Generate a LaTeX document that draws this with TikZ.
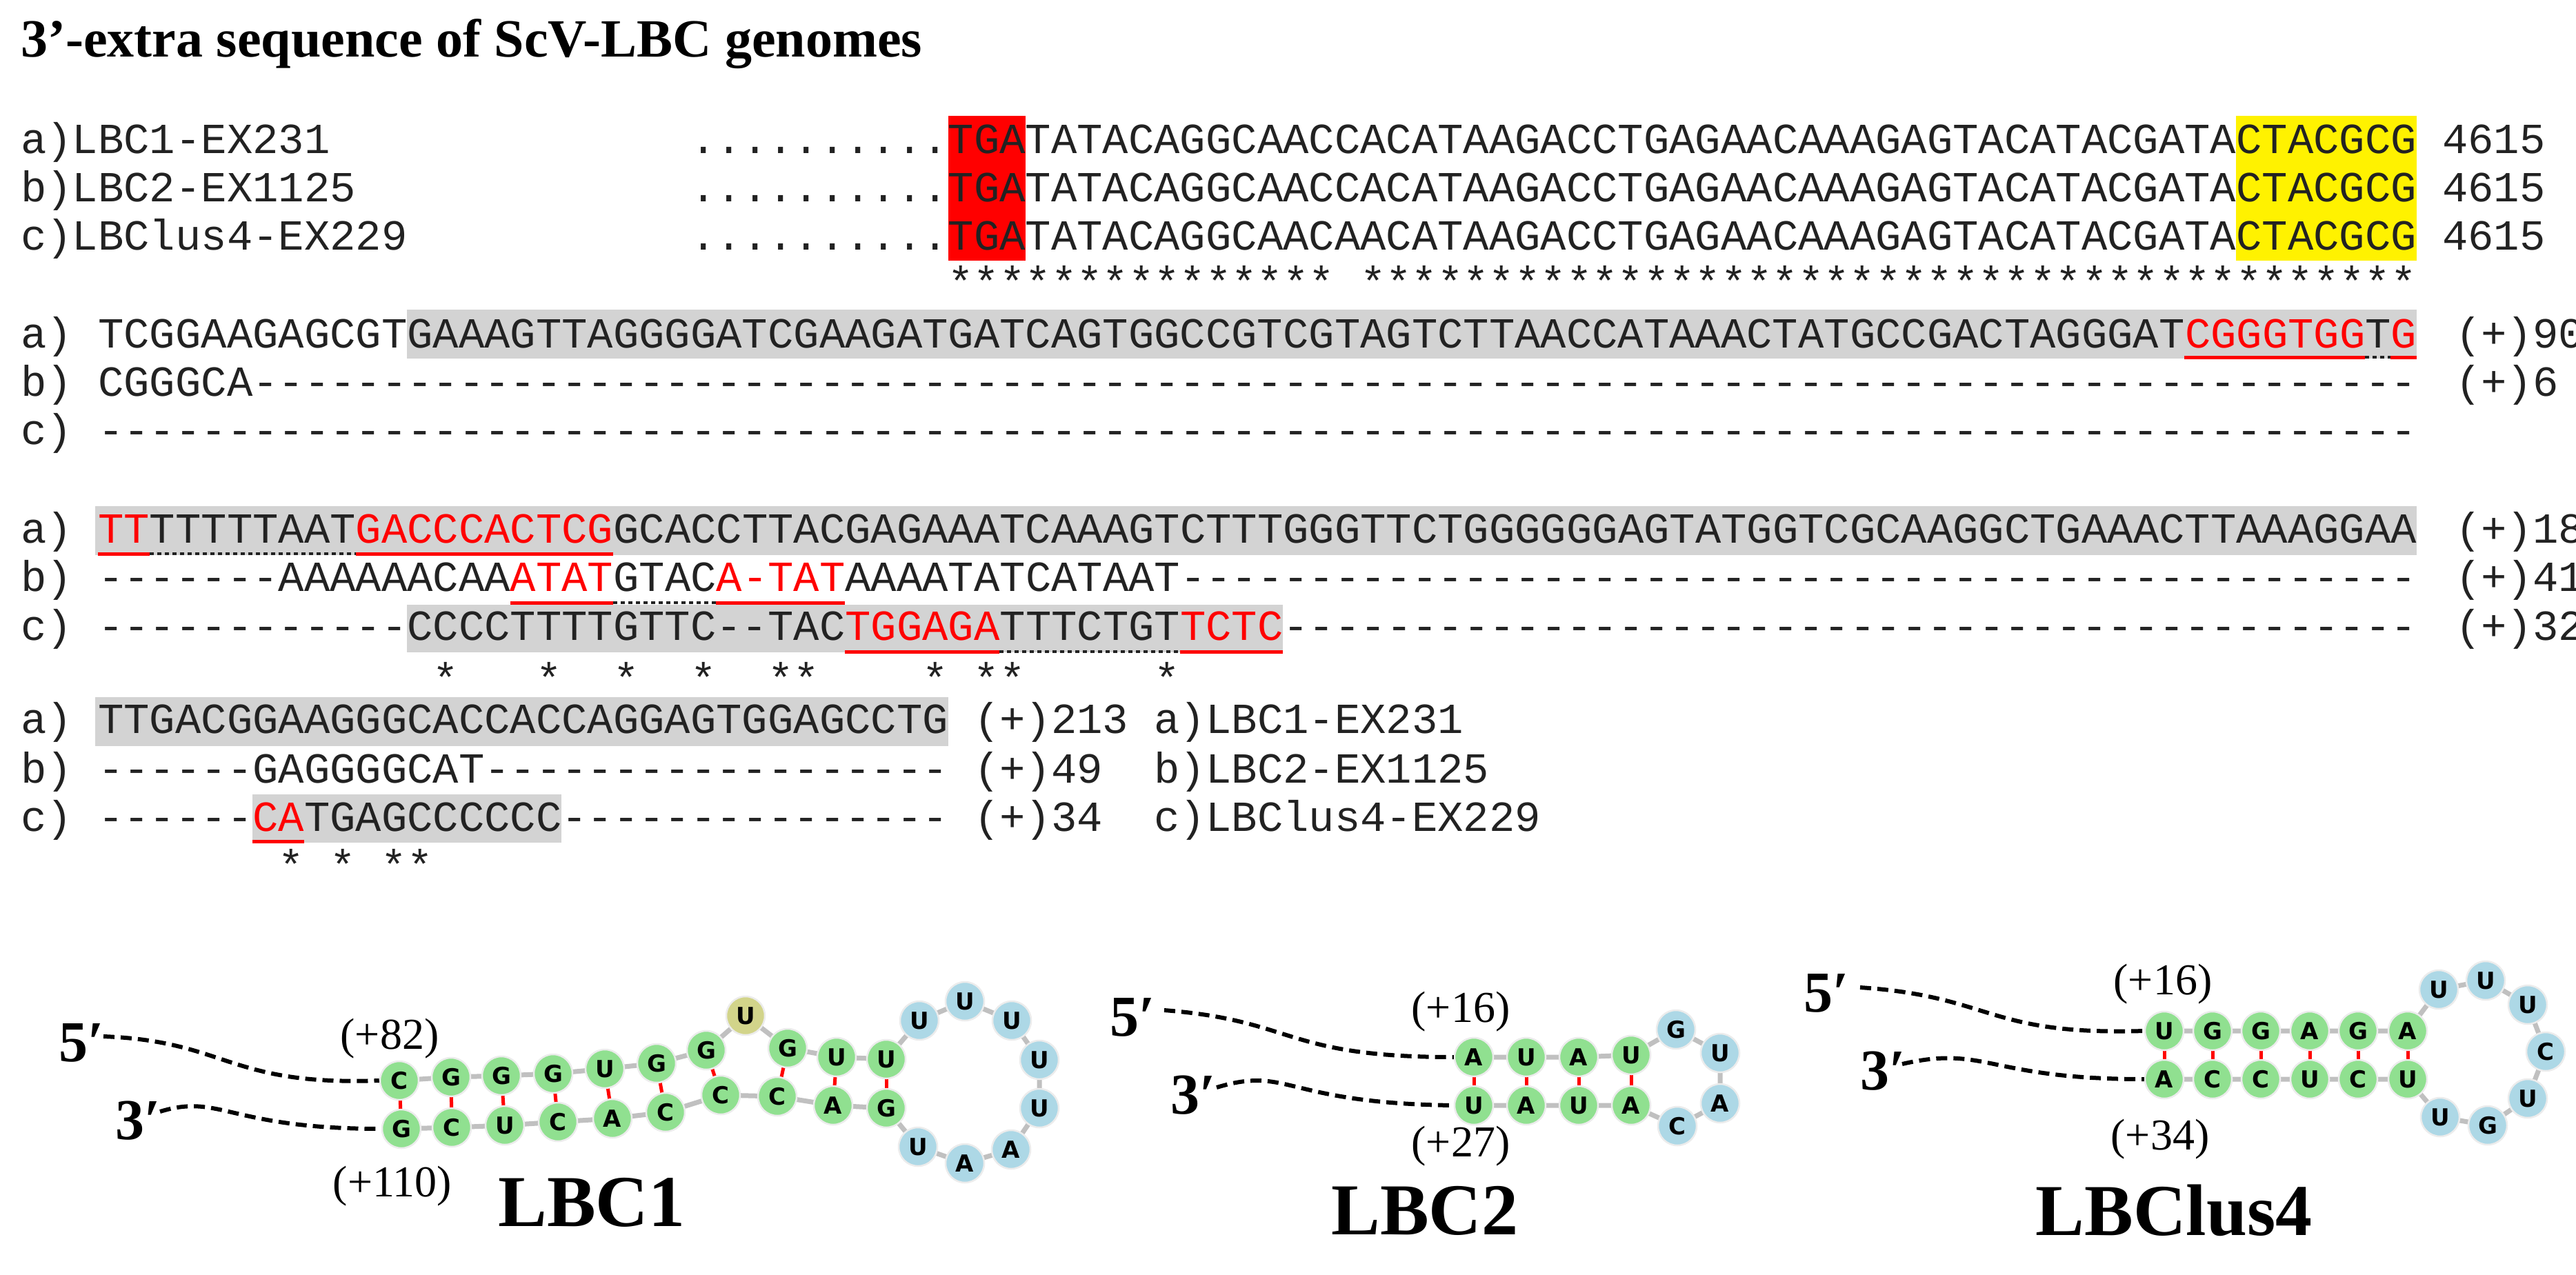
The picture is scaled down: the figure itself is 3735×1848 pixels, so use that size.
\documentclass[tikz,border=0pt]{standalone}
\usepackage{fontspec}
\setmonofont{Liberation Mono}
\newfontfamily\tms{Liberation Serif}
\newfontfamily\bsans{DejaVu Sans}
\ExplSyntaxOn
\cs_new:Npn \Rep #1#2 {\prg_replicate:nn{#1}{#2}}
\ExplSyntaxOff
\newcommand\ix[1]{\fpeval{30+37.35*(#1+3)}}
\newcommand\ox[1]{\fpeval{30+37.35*(#1)}}
\definecolor{txt}{HTML}{222222}
\definecolor{gbox}{HTML}{D3D3D3}
\definecolor{bgreen}{HTML}{90E090}
\definecolor{bblue}{HTML}{ADD8E6}
\definecolor{byel}{HTML}{D2D48A}
\definecolor{bb}{HTML}{C0C0C0}
\newcommand\R[1]{\textcolor{red}{#1}}
\begin{document}
\begin{tikzpicture}[x=1pt,y=-1pt,
  seq/.style={anchor=base west,inner sep=0pt,text=txt,font=\ttfamily\fontsize{62.25}{70}\selectfont},
  star/.style={inner sep=0pt,text=txt,font=\ttfamily\fontsize{62.25}{70}\selectfont},
  ul/.style={red,line width=5pt},
  dl/.style={txt,line width=4pt,dash pattern=on 6pt off 5pt},
  rbase/.style={circle,minimum size=56pt,inner sep=0pt,font=\bsans\bfseries\fontsize{34}{34}\selectfont,draw=white!85!gray,line width=2.5pt},
  P/.style={rbase,fill=bgreen},
  L/.style={rbase,fill=bblue},
  Y/.style={rbase,fill=byel},
  bk/.style={bb,line width=7pt},
  bp/.style={red,line width=5pt},
  tail/.style={black,line width=6pt,dash pattern=on 16pt off 9pt},
  prime/.style={inner sep=0pt,font=\tms\bfseries\fontsize{84}{84}\selectfont},
  posl/.style={inner sep=0pt,font=\tms\fontsize{64}{64}\selectfont},
  lbl/.style={inner sep=0pt,font=\tms\bfseries\fontsize{106}{106}\selectfont}]
\useasboundingbox (0,0) rectangle (3735,1848);
\fill[white] (0,0) rectangle (3735,1848);
% title
\node[anchor=base west,inner sep=0pt,font=\tms\bfseries\fontsize{78}{78}\selectfont] (title) at (30,82) {3’-extra sequence of ScV-LBC genomes};
% block 1
\fill[red] ({\ox{36}},168) rectangle ({\ox{39}},378);
\fill[yellow] ({\ox{86}},168) rectangle ({\ox{93}},378);
\node[seq] (r1a) at (30,222) {a)LBC1-EX231};
\node[seq] (r1b) at (30,292) {b)LBC2-EX1125};
\node[seq] (r1c) at (30,362) {c)LBClus4-EX229};
\node[seq] (s1a) at ({\ox{26}},222) {..........TGATATACAGGCAACCACATAAGACCTGAGAACAAAGAGTACATACGATACTACGCG 4615};
\node[seq] (s1b) at ({\ox{26}},292) {..........TGATATACAGGCAACCACATAAGACCTGAGAACAAAGAGTACATACGATACTACGCG 4615};
\node[seq] (s1c) at ({\ox{26}},362) {..........TGATATACAGGCAACAACATAAGACCTGAGAACAAAGAGTACATACGATACTACGCG 4615};
\foreach \i in {36,...,50,52,53,...,92} \node[star] at ({\ox{\i+0.5}},408) {*};
% block 2
\fill[gbox] ({\ix{12}},449) rectangle ({\ix{90}},520);
\node[seq] (l2a) at (30,504) {a)};
\node[seq] (l2b) at (30,574) {b)};
\node[seq] (l2c) at (30,644) {c)};
\node[seq] (s2a) at ({\ix{0}},504) {TCGGAAGAGCGTGAAAGTTAGGGGATCGAAGATGATCAGTGGCCGTCGTAGTCTTAACCATAAACTATGCCGACTAGGGAT\R{CGGGTGG}T\R{G}};
\node[seq] (s2b) at ({\ix{0}},574) {CGGGCA\Rep{84}{-}};
\node[seq] (s2c) at ({\ix{0}},644) {\Rep{90}{-}};
\node[seq] (n2a) at (3560,504) {(+)90};
\node[seq] (n2b) at (3560,574) {(+)6};
\draw[ul] ({\ix{81}},518) -- ({\ix{88}},518);
\draw[dl] ({\ix{88}},518) -- ({\ix{89}},518);
\draw[ul] ({\ix{89}},518) -- ({\ix{90}},518);
% block 3
\fill[gbox] ({\ix{0}-4},734) rectangle ({\ix{90}},805);
\fill[gbox] ({\ix{12}},877) rectangle ({\ix{46}},946);
\node[seq] (l3a) at (30,787) {a)};
\node[seq] (l3b) at (30,857) {b)};
\node[seq] (l3c) at (30,928) {c)};
\node[seq] (s3a) at ({\ix{0}},787) {\R{TT}TTTTTAAT\R{GACCCACTCG}GCACCTTACGAGAAATCAAAGTCTTTGGGTTCTGGGGGGAGTATGGTCGCAAGGCTGAAACTTAAAGGAA};
\node[seq] (s3b) at ({\ix{0}},857) {-------AAAAAACAA\R{ATAT}GTAC\R{A-TAT}AAAATATCATAAT\Rep{48}{-}};
\node[seq] (s3c) at ({\ix{0}},928) {------------CCCCTTTTGTTC--TAC\R{TGGAGA}TTTCTGT\R{TCTC}\Rep{44}{-}};
\node[seq] (n3a) at (3560,787) {(+)180};
\node[seq] (n3b) at (3560,857) {(+)41};
\node[seq] (n3c) at (3560,928) {(+)32};
\draw[ul] ({\ix{0}},803) -- ({\ix{2}},803);
\draw[dl] ({\ix{2}},803) -- ({\ix{10}},803);
\draw[ul] ({\ix{10}},803) -- ({\ix{20}},803);
\draw[ul] ({\ix{16}},874) -- ({\ix{20}},874);
\draw[dl] ({\ix{20}},874) -- ({\ix{24}},874);
\draw[ul] ({\ix{24}},874) -- ({\ix{29}},874);
\draw[ul] ({\ix{29}},945) -- ({\ix{35}},945);
\draw[dl] ({\ix{35}},945) -- ({\ix{42}},945);
\draw[ul] ({\ix{42}},945) -- ({\ix{46}},945);
\foreach \i in {13,17,20,23,26,27,32,34,35,41} \node[star] at ({\ix{\i+0.5}},983) {*};
% block 4
\fill[gbox] ({\ix{0}-4},1011) rectangle ({\ix{33}},1082);
\fill[gbox] ({\ix{6}},1152) rectangle ({\ix{18}},1222);
\node[seq] (l4a) at (30,1063) {a)};
\node[seq] (l4b) at (30,1135) {b)};
\node[seq] (l4c) at (30,1205) {c)};
\node[seq] (s4a) at ({\ix{0}},1063) {TTGACGGAAGGGCACCACCAGGAGTGGAGCCTG};
\node[seq] (s4b) at ({\ix{0}},1135) {------GAGGGGCAT\Rep{18}{-}};
\node[seq] (s4c) at ({\ix{0}},1205) {------\R{CA}TGAGCCCCCC\Rep{15}{-}};
\node[seq] (n4a) at ({\ix{34}},1063) {(+)213};
\node[seq] (n4b) at ({\ix{34}},1135) {(+)49};
\node[seq] (n4c) at ({\ix{34}},1205) {(+)34};
\node[seq] (k4a) at ({\ix{41}},1063) {a)LBC1-EX231};
\node[seq] (k4b) at ({\ix{41}},1135) {b)LBC2-EX1125};
\node[seq] (k4c) at ({\ix{41}},1205) {c)LBClus4-EX229};
\draw[ul] ({\ix{6}},1220) -- ({\ix{8}},1220);
\foreach \i in {7,9,11,12} \node[star] at ({\ix{\i+0.5}},1254) {*};

% ---------- LBC1 ----------
\draw[bk] (579,1567) -- (654,1562) -- (727,1560) -- (802,1557) -- (877,1550) -- (952,1542) -- (1024,1523) -- (1081,1473) -- (1142,1520) -- (1213,1533) -- (1285,1536) -- (1333,1480) -- (1399,1452) -- (1467,1480) -- (1507,1537) -- (1507,1607) -- (1466,1667) -- (1399,1687) -- (1331,1663) -- (1285,1607) -- (1208,1603) -- (1127,1590) -- (1045,1588) -- (965,1613) -- (888,1622) -- (809,1627) -- (732,1632) -- (655,1635) -- (582,1637);
\draw[bp] (579,1567) -- (582,1637); \draw[bp] (654,1562) -- (655,1635);
\draw[bp] (727,1560) -- (732,1632); \draw[bp] (802,1557) -- (809,1627);
\draw[bp] (877,1550) -- (888,1622); \draw[bp] (952,1542) -- (965,1613);
\draw[bp] (1024,1523) -- (1045,1588); \draw[bp] (1142,1520) -- (1127,1590);
\draw[bp] (1213,1533) -- (1208,1603); \draw[bp] (1285,1536) -- (1285,1607);
\node[P] (a1) at (579,1567) {C}; \node[P] (a2) at (654,1562) {G};
\node[P] (a3) at (727,1560) {G}; \node[P] (a4) at (802,1557) {G};
\node[P] (a5) at (877,1550) {U}; \node[P] (a6) at (952,1542) {G};
\node[P] (a7) at (1024,1523) {G}; \node[Y] (a8) at (1081,1473) {U};
\node[P] (a9) at (1142,1520) {G}; \node[P] (a10) at (1213,1533) {U};
\node[P] (a11) at (1285,1536) {U};
\node[L] (a12) at (1333,1480) {U}; \node[L] (a13) at (1399,1452) {U};
\node[L] (a14) at (1467,1480) {U}; \node[L] (a15) at (1507,1537) {U};
\node[L] (a16) at (1507,1607) {U}; \node[L] (a17) at (1466,1667) {A};
\node[L] (a18) at (1399,1687) {A}; \node[L] (a19) at (1331,1663) {U};
\node[P] (a20) at (1285,1607) {G}; \node[P] (a21) at (1208,1603) {A};
\node[P] (a22) at (1127,1590) {C}; \node[P] (a23) at (1045,1588) {C};
\node[P] (a24) at (965,1613) {C}; \node[P] (a25) at (888,1622) {A};
\node[P] (a26) at (809,1627) {C}; \node[P] (a27) at (732,1632) {U};
\node[P] (a28) at (655,1635) {C}; \node[P] (a29) at (582,1637) {G};
\node[prime] (p5a) at (118,1512) {5′};
\node[prime] (p3a) at (200,1625) {3′};
\coordinate (t5a) at (150,1503);
\coordinate (t3a) at (232,1612);
\draw[tail] (t5a) .. controls (330,1510) and (330,1575) .. (a1.west);
\draw[tail] (t3a) .. controls (320,1585) and (330,1637) .. (a29.west);
\node[posl] (pa1) at (565,1506) {(+82)};
\node[posl] (pa2) at (569,1720) {(+110)};
\node[lbl] (n1) at (858,1744) {LBC1};

% ---------- LBC2 ----------
\draw[bk] (2137,1533) -- (2213,1533) -- (2289,1533) -- (2365,1530) -- (2430,1493) -- (2494,1527) -- (2494,1600) -- (2432,1633) -- (2365,1603) -- (2289,1603) -- (2213,1603) -- (2137,1603);
\foreach \x in {2137,2213,2289,2365} \draw[bp] (\x,1533) -- (\x,1603);
\node[P] (b1) at (2137,1533) {A}; \node[P] (b2) at (2213,1533) {U};
\node[P] (b3) at (2289,1533) {A}; \node[P] (b4) at (2365,1530) {U};
\node[L] (b5) at (2430,1493) {G}; \node[L] (b6) at (2494,1527) {U};
\node[L] (b7) at (2494,1600) {A}; \node[L] (b8) at (2432,1633) {C};
\node[P] (b9) at (2365,1603) {A}; \node[P] (b10) at (2289,1603) {U};
\node[P] (b11) at (2213,1603) {A}; \node[P] (b12) at (2137,1603) {U};
\node[prime] (p5b) at (1642,1475) {5′};
\node[prime] (p3b) at (1730,1588) {3′};
\coordinate (t5b) at (1688,1465);
\coordinate (t3b) at (1764,1577);
\draw[tail] (t5b) .. controls (1880,1480) and (1860,1533) .. (b1.west);
\draw[tail] (t3b) .. controls (1870,1545) and (1860,1600) .. (b12.west);
\node[posl] (pb1) at (2118,1467) {(+16)};
\node[posl] (pb2) at (2118,1662) {(+27)};
\node[lbl] (n2) at (2066,1756) {LBC2};

% ---------- LBClus4 ----------
\draw[bk] (3138,1495) -- (3208,1495) -- (3278,1495) -- (3349,1495) -- (3419,1495) -- (3491,1495) -- (3536,1435) -- (3604,1422) -- (3665,1457) -- (3691,1525) -- (3665,1593) -- (3607,1632) -- (3538,1620) -- (3491,1565) -- (3419,1565) -- (3349,1565) -- (3278,1565) -- (3208,1565) -- (3138,1565);
\foreach \x in {3138,3208,3278,3349,3419,3491} \draw[bp] (\x,1495) -- (\x,1565);
\node[P] (c1) at (3138,1495) {U}; \node[P] (c2) at (3208,1495) {G};
\node[P] (c3) at (3278,1495) {G}; \node[P] (c4) at (3349,1495) {A};
\node[P] (c5) at (3419,1495) {G}; \node[P] (c6) at (3491,1495) {A};
\node[L] (c7) at (3536,1435) {U}; \node[L] (c8) at (3604,1422) {U};
\node[L] (c9) at (3665,1457) {U}; \node[L] (c10) at (3691,1525) {C};
\node[L] (c11) at (3665,1593) {U}; \node[L] (c12) at (3607,1632) {G};
\node[L] (c13) at (3538,1620) {U};
\node[P] (c14) at (3491,1565) {U}; \node[P] (c15) at (3419,1565) {C};
\node[P] (c16) at (3349,1565) {U}; \node[P] (c17) at (3278,1565) {C};
\node[P] (c18) at (3208,1565) {C}; \node[P] (c19) at (3138,1565) {A};
\node[prime] (p5c) at (2648,1440) {5′};
\node[prime] (p3c) at (2730,1553) {3′};
\coordinate (t5c) at (2697,1432);
\coordinate (t3c) at (2758,1543);
\draw[tail] (t5c) .. controls (2890,1445) and (2880,1502) .. (c1.west);
\draw[tail] (t3c) .. controls (2880,1515) and (2880,1565) .. (c19.west);
\node[posl] (pc1) at (3136,1427) {(+16)};
\node[posl] (pc2) at (3132,1652) {(+34)};
\node[lbl] (n3) at (3152,1755) {LBClus4};
\end{tikzpicture}
\end{document}
